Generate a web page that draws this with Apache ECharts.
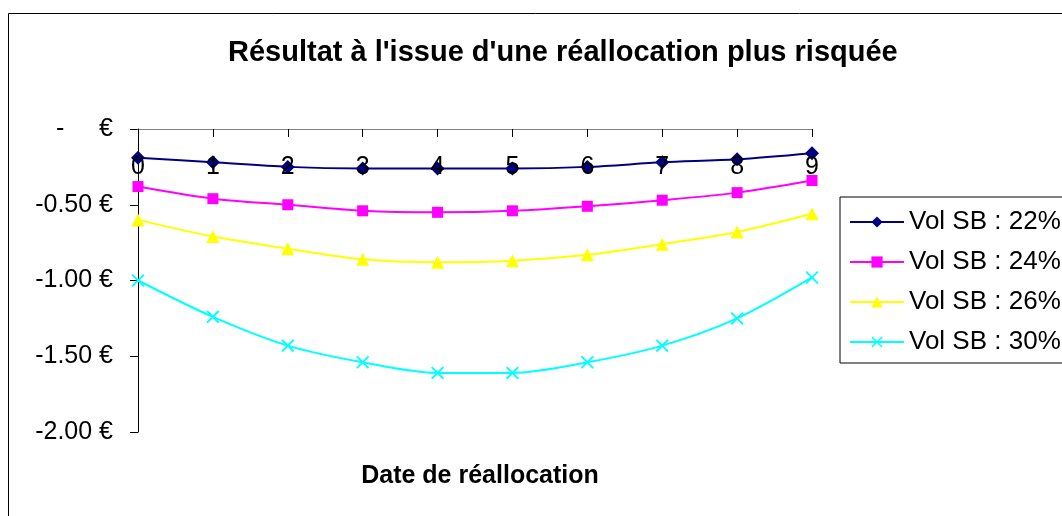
<!DOCTYPE html>
<html lang="fr">
<head>
    <meta charset="UTF-8">
    <title>Résultat à l'issue d'une réallocation plus risquée</title>
    <script src="https://cdn.jsdelivr.net/npm/echarts@6/dist/echarts.min.js"></script>
    <style>
        html, body { margin: 0; padding: 0; background: #fff; }
    </style>
</head>
<body>
<div id="main" style="width: 1062px;height:516px;"></div>
<script type="text/javascript">
    // données
    var dates = ['0', '1', '2', '3', '4', '5', '6', '7', '8', '9'];
    var vol22 = [-0.19, -0.22, -0.25, -0.26, -0.26, -0.26, -0.25, -0.22, -0.20, -0.16];
    var vol24 = [-0.38, -0.46, -0.50, -0.54, -0.55, -0.54, -0.51, -0.47, -0.42, -0.34];
    var vol26 = [-0.60, -0.71, -0.79, -0.86, -0.88, -0.87, -0.83, -0.76, -0.68, -0.56];
    var vol30 = [-1.00, -1.24, -1.43, -1.54, -1.61, -1.61, -1.54, -1.43, -1.25, -0.98];
    var seriesNames = ['Vol SB : 22%', 'Vol SB : 24%', 'Vol SB : 26%', 'Vol SB : 30%'];

    var font = "'Liberation Sans', Arial, sans-serif";
    var cross = 'path://M0,1 L1,0 L5,4 L9,0 L10,1 L6,5 L10,9 L9,10 L5,6 L1,10 L0,9 L4,5 Z';

    function serie(name, data, color, symbol, size) {
        return {
            name: name,
            type: 'line',
            data: data,
            symbol: symbol,
            symbolSize: size,
            showSymbol: true,
            smooth: 0.3,
            lineStyle: { color: color, width: 2 },
            itemStyle: { color: color },
            emphasis: { disabled: true }
        };
    }

    var myChart = echarts.init(document.getElementById('main'));

    myChart.setOption({
        backgroundColor: '#ffffff',
        animation: false,
        textStyle: { fontFamily: font },
        graphic: [{
            type: 'rect',
            shape: { x: 8.5, y: 13.5, width: 1200, height: 700 },
            style: { fill: 'none', stroke: '#000', lineWidth: 1 },
            silent: true
        }],
        title: [{
            text: "Résultat à l'issue d'une réallocation plus risquée",
            left: 223,
            top: 33,
            textStyle: { fontFamily: font, fontSize: 29, fontWeight: 'bold', color: '#000' }
        }, {
            // titre de l'axe des abscisses
            text: 'Date de réallocation',
            left: 475,
            textAlign: 'center',
            top: 459,
            textStyle: { fontFamily: font, fontSize: 25, fontWeight: 'bold', color: '#000' }
        }],
        legend: {
            orient: 'vertical',
            left: 840,
            top: 197,
            padding: [12, 60, 8, 9],
            itemWidth: 54,
            itemHeight: 14,
            itemGap: 14,
            borderColor: '#000',
            borderWidth: 1,
            data: seriesNames,
            textStyle: { fontFamily: font, fontSize: 26, color: '#000' }
        },
        grid: {
            left: 138,
            right: 250,
            top: 129,
            bottom: 84,
            containLabel: false,
            outerBoundsMode: 'none'
        },
        xAxis: {
            type: 'category',
            data: dates,
            position: 'top',
            boundaryGap: false,
            z: 5,
            axisLine: { onZero: false, lineStyle: { color: '#808080', width: 1 } },
            axisTick: { show: true, inside: true, length: 8, alignWithLabel: true, lineStyle: { color: '#000' } },
            axisLabel: { inside: true, fontSize: 25, color: '#000', margin: 26 },
            splitLine: { show: false }
        },
        yAxis: {
            type: 'value',
            min: -2,
            max: 0,
            interval: 0.5,
            axisLine: { show: true, lineStyle: { color: '#000', width: 1 } },
            axisTick: { show: true, length: 8, lineStyle: { color: '#000' } },
            axisLabel: {
                fontSize: 25,
                color: '#000',
                margin: 25,
                formatter: function (v) {
                    if (v === 0) return '-     €';
                    return v.toFixed(2) + ' €';
                }
            },
            splitLine: { show: false }
        },
        series: [
            serie(seriesNames[0], vol22, '#000080', 'diamond', 14),
            serie(seriesNames[1], vol24, '#FF00FF', 'rect', 11),
            serie(seriesNames[2], vol26, '#FFFF00', 'triangle', 13),
            serie(seriesNames[3], vol30, '#00FFFF', cross, 13)
        ]
    });
</script>
</body>
</html>
